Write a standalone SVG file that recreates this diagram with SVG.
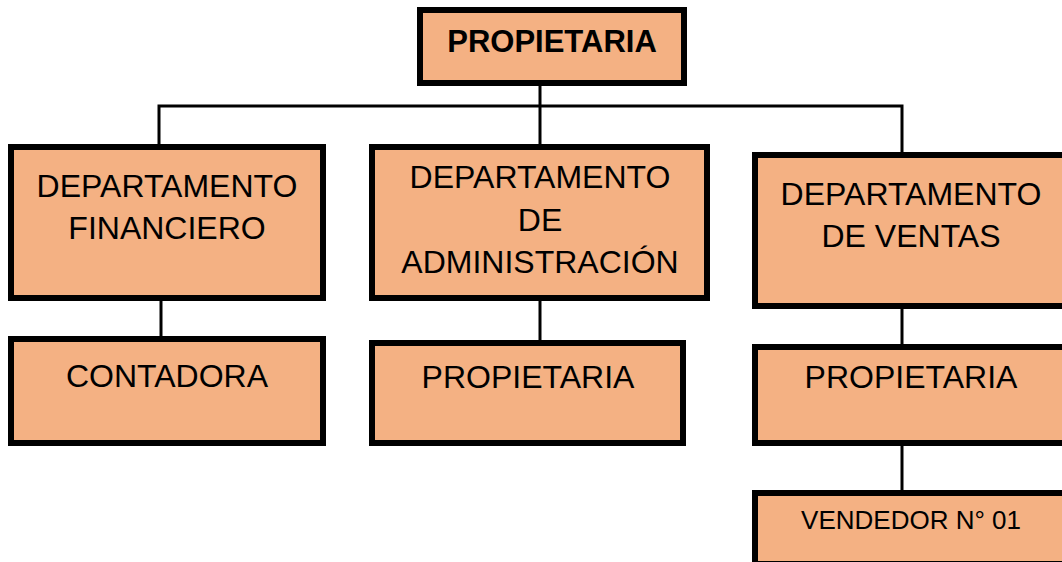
<svg xmlns="http://www.w3.org/2000/svg" width="1062" height="562" viewBox="0 0 1062 562">
<style>
.box{fill:#F4B183;stroke:#000;stroke-width:6}
.t{font-family:"Liberation Sans",Arial,sans-serif;font-size:32px;fill:#000;text-anchor:middle}
.b{font-weight:bold;font-size:31px}
.s{font-size:26px}
.c{fill:none;stroke:#000;stroke-width:3}
</style>
<rect width="1062" height="562" fill="#fff"/>
<g id="connectors">
<path class="c" d="M540,86V144"/>
<path class="c" d="M159,144V106H902V152"/>
<path class="c" d="M161,301V336"/>
<path class="c" d="M540,301V340"/>
<path class="c" d="M902,309V344"/>
<path class="c" d="M902,446V490"/>
</g>
<g id="n-top">
<rect class="box" x="420" y="10" width="264" height="73"/>
<text class="t b" x="552" y="52">PROPIETARIA</text>
</g>
<g id="n-fin">
<rect class="box" x="11" y="147" width="312" height="151"/>
<text class="t" x="167" y="197">DEPARTAMENTO</text>
<text class="t" x="167" y="239">FINANCIERO</text>
</g>
<g id="n-adm">
<rect class="box" x="372" y="147" width="335" height="151"/>
<text class="t" x="540" y="188">DEPARTAMENTO</text>
<text class="t" x="540" y="231">DE</text>
<text class="t" x="540" y="273">ADMINISTRACIÓN</text>
</g>
<g id="n-ven">
<rect class="box" x="755" y="155" width="312" height="151"/>
<text class="t" x="911" y="205">DEPARTAMENTO</text>
<text class="t" x="911" y="247">DE VENTAS</text>
</g>
<g id="n-cont">
<rect class="box" x="11" y="339" width="312" height="104"/>
<text class="t" x="167" y="387">CONTADORA</text>
</g>
<g id="n-prop2">
<rect class="box" x="372" y="343" width="311" height="100"/>
<text class="t" x="528" y="388">PROPIETARIA</text>
</g>
<g id="n-prop3">
<rect class="box" x="755" y="347" width="312" height="96"/>
<text class="t" x="911" y="388">PROPIETARIA</text>
</g>
<g id="n-vend">
<rect class="box" x="755" y="493" width="312" height="71"/>
<text class="t s" x="911" y="529">VENDEDOR N° 01</text>
</g>
</svg>
